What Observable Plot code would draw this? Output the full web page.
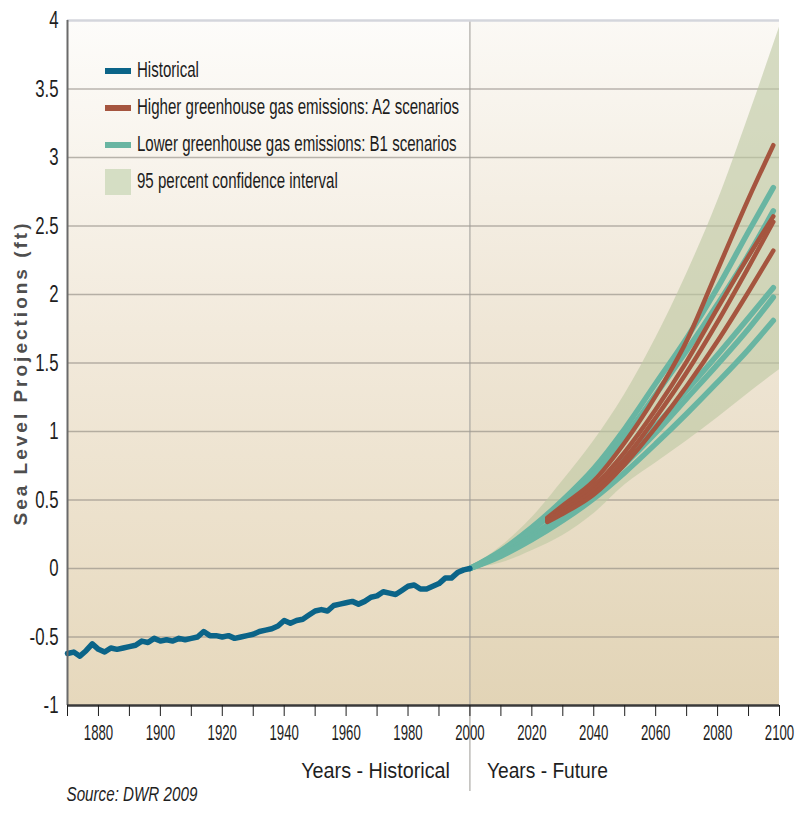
<!DOCTYPE html>
<html>
<head>
<meta charset="utf-8">
<script src="https://cdn.jsdelivr.net/npm/d3@7"></script>
<script src="https://cdn.jsdelivr.net/npm/@observablehq/plot@0.6"></script>
<style>
  body { margin: 0; background: #ffffff; font-family: "Liberation Sans", Arial, sans-serif; }
  #wrap { position: relative; width: 796px; height: 813px; }
  #legend { position: absolute; left: 105px; top: 52px; }
  .row { height: 37px; display: flex; align-items: center; white-space: nowrap; }
  .sw { width: 26px; flex: none; }
  .lab { display: inline-block; margin-left: 6px; font-size: 21.5px; color: #1c1c1c; transform: scaleX(0.7); transform-origin: left center; }
</style>
</head>
<body>
<div id="wrap"></div>
<script>
// ---------- data ----------
const historicalYears = [1870,1872,1874,1876,1878,1880,1882,1884,1886,1888,1890,1892,1894,1896,1898,
  1900,1902,1904,1906,1908,1910,1912,1914,1916,1918,1920,1922,1924,1926,1928,1930,1932,1934,1936,1938,
  1940,1942,1944,1946,1948,1950,1952,1954,1956,1958,1960,1962,1964,1966,1968,1970,1972,1974,1976,1978,
  1980,1982,1984,1986,1988,1990,1992,1994,1996,1998,2000];
const historicalLevels = [-0.62,-0.61,-0.64,-0.60,-0.55,-0.59,-0.61,-0.58,-0.59,-0.58,-0.57,-0.56,-0.53,-0.54,-0.51,
  -0.53,-0.52,-0.53,-0.51,-0.52,-0.51,-0.50,-0.46,-0.49,-0.49,-0.50,-0.49,-0.51,-0.50,-0.49,-0.48,-0.46,-0.45,-0.44,-0.42,
  -0.38,-0.40,-0.38,-0.37,-0.34,-0.31,-0.30,-0.31,-0.27,-0.26,-0.25,-0.24,-0.26,-0.24,-0.21,-0.20,-0.17,-0.18,-0.19,-0.16,
  -0.13,-0.12,-0.15,-0.15,-0.13,-0.11,-0.07,-0.07,-0.03,-0.01,0.00];

const bandYears = [2000,2010,2020,2030,2040,2050,2060,2070,2080,2090,2100];
const bandLow   = [0,0.04,0.13,0.24,0.40,0.61,0.77,0.93,1.10,1.28,1.45];
const bandHigh  = [0,0.16,0.37,0.64,0.93,1.27,1.68,2.15,2.68,3.30,3.95];

const b1Years = [2000,2010,2020,2030,2040,2050,2060,2070,2080,2090,2098];
const b1Run1 = [0,0.13,0.30,0.50,0.73,1.02,1.35,1.68,2.05,2.46,2.78];
const b1Run2 = [0,0.12,0.28,0.47,0.69,0.96,1.27,1.59,1.93,2.29,2.61];
const b1Run3 = [0,0.10,0.24,0.40,0.58,0.80,1.04,1.30,1.56,1.83,2.05];
const b1Run4 = [0,0.10,0.23,0.38,0.55,0.76,0.99,1.24,1.49,1.75,1.98];
const b1Run5 = [0,0.09,0.21,0.35,0.51,0.70,0.91,1.13,1.36,1.60,1.81];

const a2Years = [2025,2030,2040,2050,2060,2070,2080,2090,2098];
const a2Run1 = [0.37,0.46,0.64,0.92,1.26,1.66,2.18,2.70,3.09];
const a2Run2 = [0.36,0.44,0.60,0.85,1.16,1.51,1.90,2.28,2.57];
const a2Run3 = [0.35,0.42,0.57,0.80,1.10,1.43,1.80,2.20,2.53];
const a2Run4 = [0.34,0.40,0.54,0.76,1.03,1.33,1.66,2.02,2.32];

const eras = [{name: "Historical", start: 1870, end: 2000}, {name: "Future", start: 2000, end: 2100}];
const splitYear = 2000;
const xTickMinor = [1870,1880,1890,1900,1910,1920,1930,1940,1950,1960,1970,1980,1990,2000,2010,2020,2030,2040,2050,2060,2070,2080,2090,2100];
const xTickLabels = [1880,1900,1920,1940,1960,1980,2000,2020,2040,2060,2080,2100];
const yTicks = [-1,-0.5,0,0.5,1,1.5,2,2.5,3,3.5,4];
const gridLevels = [-0.5,0,0.5,1,1.5,2,2.5,3,3.5];
const yTitle = "Sea Level Projections (ft)";
const eraTitles = ["Years - Historical", "Years - Future"];
const sourceNote = "Source: DWR 2009";
const legendItems = [
  {label: "Historical", kind: "line", color: "#0b6488"},
  {label: "Higher greenhouse gas emissions: A2 scenarios", kind: "line", color: "#a5553f"},
  {label: "Lower greenhouse gas emissions: B1 scenarios", kind: "line", color: "#69b5a2"},
  {label: "95 percent confidence interval", kind: "area", color: "#d5dec4"}
];

// ---------- tables ----------
const historical = historicalYears.map((year, i) => ({year, level: historicalLevels[i]}));
const band = bandYears.map((year, i) => ({year, low: bandLow[i], high: bandHigh[i]}));
const b1 = [b1Run1, b1Run2, b1Run3, b1Run4, b1Run5].flatMap((run, k) => b1Years.map((year, i) => ({id: k, year, level: run[i]})));
const a2 = [a2Run1, a2Run2, a2Run3, a2Run4].flatMap((run, k) => a2Years.map((year, i) => ({id: k, year, level: run[i]})));

const FONT = '"Liberation Sans", Arial, sans-serif';

const plot = Plot.plot({
  width: 796,
  height: 813,
  marginLeft: 67,
  marginRight: 17,
  marginTop: 20,
  marginBottom: 108,
  x: {domain: [1870, 2100], label: null},
  y: {domain: [-1, 4], label: null},
  style: {fontFamily: FONT, background: "#ffffff", overflow: "visible", color: "#222"},
  marks: [
    Plot.rect(eras.filter(d => d.name === "Historical"), {x1: "start", x2: "end", fill: "url(#bgHist)"}),
    Plot.rect(eras.filter(d => d.name === "Future"), {x1: "start", x2: "end", fill: "url(#bgFut)"}),
    Plot.ruleY(gridLevels, {stroke: "#8c877f", strokeOpacity: 0.6, strokeWidth: 1.3}),
    Plot.areaY(band, {x: "year", y1: "low", y2: "high", fill: "#bdc8a2", fillOpacity: 0.6, curve: "monotone-x"}),
    Plot.ruleX([splitYear], {stroke: "#9c9a96", strokeWidth: 1, insetBottom: -86}),
    Plot.line(b1, {x: "year", y: "level", z: "id", stroke: "#69b5a2", strokeWidth: 5.5, curve: "monotone-x", strokeLinecap: "round"}),
    Plot.line(a2, {x: "year", y: "level", z: "id", stroke: "#a5553f", strokeWidth: 4.5, curve: "monotone-x", strokeLinecap: "round"}),
    Plot.line(historical, {x: "year", y: "level", stroke: "#0b6488", strokeWidth: 5.5, strokeLinejoin: "round"}),
    Plot.ruleY([4], {stroke: "#d4d6dc", strokeWidth: 2.5}),
    Plot.ruleX([1870], {stroke: "#6a6a6a", strokeWidth: 2}),
    Plot.ruleY([-1], {stroke: "#3a3a3a", strokeWidth: 2.5}),
    Plot.axisX({ticks: xTickMinor, tickFormat: () => "", tickSize: 11, stroke: "#1e1e1e"}),
    Plot.axisX({ticks: xTickLabels, tickSize: 0, tickPadding: 19, fontSize: 22, fill: "#1e1e1e", tickFormat: d => String(d)}),
    Plot.axisY({ticks: yTicks, tickSize: 0, tickPadding: 9, fontSize: 24, fill: "#1e1e1e", tickFormat: d => String(d)}),
    Plot.text([yTitle], {frameAnchor: "left", textAnchor: "middle", dx: -47, dy: 10, rotate: -90, fontWeight: "bold", fontSize: 19, fill: "#4e4e4e", className: "ytitle"}),
    Plot.text([eraTitles[0]], {x: [splitYear], frameAnchor: "bottom", dx: -20, dy: 72, textAnchor: "end", fontSize: 22, fill: "#1e1e1e", className: "era-hist"}),
    Plot.text([eraTitles[1]], {x: [splitYear], frameAnchor: "bottom", dx: 17, dy: 72, textAnchor: "start", fontSize: 22, fill: "#1e1e1e", className: "era-fut"}),
    Plot.text([sourceNote], {frameAnchor: "bottom-left", dx: -1, dy: 95, textAnchor: "start", fontSize: 20, fontStyle: "italic", fill: "#1e1e1e", className: "source"})
  ]
});

// gradients for the background
const svg = d3.select(plot.tagName.toLowerCase() === "svg" ? plot : plot.querySelector("svg"));
const defs = svg.insert("defs", ":first-child");
function grad(id, stops) {
  const g = defs.append("linearGradient").attr("id", id).attr("x1", 0).attr("y1", 0).attr("x2", 0).attr("y2", 1);
  stops.forEach(([o, c]) => g.append("stop").attr("offset", o).attr("stop-color", c));
}
grad("bgHist", [[0, "#fdfcfa"], [0.45, "#f2eadc"], [1, "#e6d8bc"]]);
grad("bgFut", [[0, "#fbf9f5"], [0.45, "#efe6d6"], [1, "#e2d4b6"]]);

const wrap = document.getElementById("wrap");
wrap.append(plot);

// legend
const legend = d3.select(wrap).append("div").attr("id", "legend");
legendItems.forEach(item => {
  const row = legend.append("div").attr("class", "row");
  row.append("div").attr("class", "sw")
    .style("height", item.kind === "line" ? "6px" : "26px")
    .style("background", item.color);
  row.append("span").attr("class", "lab").text(item.label);
});

// condensed look of the original lettering: horizontal scale about each text's own anchor
function condense(sel, k) {
  sel.each(function () {
    const t = this.getAttribute("transform") || "";
    this.setAttribute("transform", (t + ` scale(${k.toFixed(3)},1)`).trim());
  });
}
function fit(sel, w) {
  sel.each(function () {
    condense(d3.select(this), w / this.getComputedTextLength());
  });
}
condense(svg.selectAll('g[aria-label="x-axis tick label"] text'), 0.6);
condense(svg.selectAll('g[aria-label="y-axis tick label"] text'), 0.7);
fit(svg.selectAll(".era-hist text"), 149);
fit(svg.selectAll(".era-fut text"), 121);
fit(svg.selectAll(".source text"), 131);
svg.selectAll(".ytitle text").style("letter-spacing", "3px");
</script>
</body>
</html>
